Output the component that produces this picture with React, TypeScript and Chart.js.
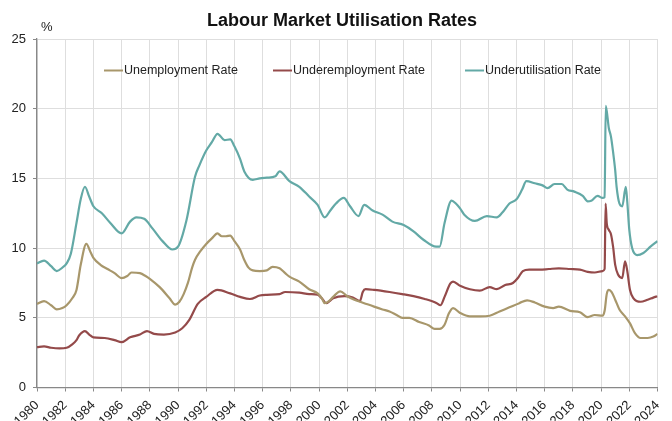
import React, { useEffect, useRef } from 'react';
import { Chart, registerables } from 'chart.js';

Chart.register(...registerables);

const chartTitle = 'Labour Market Utilisation Rates';
const yUnit = '%';
const yearTicks = [1980, 1982, 1984, 1986, 1988, 1990, 1992, 1994, 1996, 1998, 2000, 2002, 2004, 2006, 2008, 2010, 2012, 2014, 2016, 2018, 2020, 2022, 2024];
const valueTicks = [0, 5, 10, 15, 20, 25];

const seriesNames = ['Unemployment Rate', 'Underemployment Rate', 'Underutilisation Rate'];
const seriesColors = ['#a8976b', '#944a4a', '#63a9a6'];

const unemploymentYears = [1980.0, 1980.5, 1981.0, 1981.4, 1981.8, 1982.1, 1982.5, 1982.8, 1983.1, 1983.5, 1983.8, 1984.0, 1984.5, 1985.0, 1985.5, 1986.0, 1986.4, 1986.7, 1987.3, 1987.7, 1988.0, 1988.7, 1989.4, 1989.8, 1990.1, 1990.4, 1990.7, 1991.0, 1991.2, 1991.6, 1992.0, 1992.4, 1992.8, 1993.1, 1993.4, 1993.7, 1994.0, 1994.4, 1994.7, 1995.0, 1995.3, 1995.8, 1996.3, 1996.7, 1997.2, 1997.6, 1997.9, 1998.6, 1999.3, 1999.9, 2000.2, 2000.4, 2000.7, 2001.0, 2001.5, 2002.0, 2002.5, 2003.2, 2003.9, 2004.5, 2005.0, 2005.5, 2005.9, 2006.4, 2007.1, 2007.8, 2008.2, 2008.55, 2008.9, 2009.2, 2009.5, 2010.0, 2010.7, 2011.4, 2012.1, 2012.8, 2013.5, 2014.2, 2014.75, 2015.3, 2016.0, 2016.6, 2017.0, 2017.8, 2018.5, 2019.05, 2019.55, 2020.1, 2020.25, 2020.4, 2020.55, 2020.75, 2021.0, 2021.3, 2021.7, 2022.05, 2022.4, 2022.8, 2023.3, 2023.7, 2024.0];
const unemploymentRate = [6.0, 6.2, 5.9, 5.6, 5.7, 5.9, 6.4, 7.0, 8.8, 10.3, 9.7, 9.3, 8.8, 8.5, 8.2, 7.85, 8.0, 8.25, 8.2, 8.0, 7.8, 7.2, 6.4, 5.95, 6.15, 6.7, 7.5, 8.6, 9.15, 9.8, 10.3, 10.7, 11.05, 10.85, 10.85, 10.9, 10.5, 9.9, 9.15, 8.6, 8.4, 8.35, 8.4, 8.65, 8.55, 8.2, 7.95, 7.6, 7.05, 6.75, 6.4, 6.05, 6.2, 6.5, 6.9, 6.55, 6.3, 6.05, 5.8, 5.6, 5.45, 5.2, 5.0, 5.0, 4.7, 4.45, 4.2, 4.2, 4.5, 5.3, 5.7, 5.35, 5.1, 5.1, 5.15, 5.45, 5.75, 6.05, 6.25, 6.1, 5.8, 5.7, 5.8, 5.5, 5.4, 5.05, 5.2, 5.15, 5.5, 6.7, 7.0, 6.85, 6.3, 5.6, 5.1, 4.6, 3.9, 3.55, 3.55, 3.65, 3.85];

const underemploymentYears = [1980.0, 1980.5, 1981.0, 1981.6, 1982.1, 1982.5, 1982.8, 1983.0, 1983.4, 1983.7, 1984.0, 1984.8, 1985.5, 1986.0, 1986.6, 1987.3, 1987.8, 1988.3, 1989.0, 1989.8, 1990.3, 1990.8, 1991.4, 1992.0, 1992.8, 1993.7, 1994.4, 1995.1, 1995.8, 1996.3, 1997.2, 1997.6, 1998.6, 1999.3, 1999.9, 2000.2, 2000.5, 2001.0, 2001.8, 2002.4, 2002.9, 2003.1, 2003.3, 2003.9, 2005.0, 2005.9, 2006.7, 2007.5, 2008.35, 2008.6, 2008.9, 2009.3, 2009.5, 2010.0, 2010.7, 2011.4, 2012.1, 2012.6, 2013.2, 2013.75, 2014.1, 2014.45, 2014.9, 2015.65, 2016.3, 2017.0, 2017.8, 2018.5, 2019.05, 2019.55, 2020.1, 2020.25, 2020.32, 2020.4, 2020.55, 2020.7, 2020.85, 2021.0, 2021.2, 2021.5, 2021.7, 2021.85, 2022.05, 2022.3, 2022.8, 2023.3, 2023.7, 2024.0];
const underemploymentRate = [2.9, 2.95, 2.85, 2.8, 2.85, 3.1, 3.4, 3.75, 4.05, 3.8, 3.6, 3.55, 3.4, 3.25, 3.6, 3.8, 4.05, 3.85, 3.8, 3.95, 4.25, 4.85, 6.0, 6.5, 7.0, 6.75, 6.5, 6.35, 6.6, 6.65, 6.7, 6.85, 6.8, 6.7, 6.65, 6.4, 6.05, 6.4, 6.55, 6.45, 6.2, 6.85, 7.05, 7.0, 6.85, 6.7, 6.55, 6.35, 6.05, 5.9, 6.5, 7.45, 7.6, 7.3, 7.05, 6.95, 7.2, 7.05, 7.35, 7.5, 7.85, 8.35, 8.45, 8.45, 8.5, 8.55, 8.5, 8.45, 8.3, 8.25, 8.35, 8.5, 13.2, 11.8, 11.3, 11.0, 10.1, 8.8, 8.1, 7.85, 9.05, 8.4, 7.0, 6.4, 6.15, 6.3, 6.45, 6.55];

const underutilisationYears = [1980.0, 1980.5, 1981.0, 1981.4, 1981.8, 1982.1, 1982.4, 1982.8, 1983.1, 1983.4, 1983.7, 1984.0, 1984.6, 1985.2, 1986.0, 1986.6, 1987.05, 1987.6, 1988.2, 1988.9, 1989.6, 1990.0, 1990.6, 1991.2, 1991.5, 1992.0, 1992.4, 1992.8, 1993.3, 1993.7, 1994.0, 1994.4, 1994.7, 1995.3, 1995.8, 1996.3, 1996.9, 1997.2, 1997.9, 1998.6, 1999.3, 1999.9, 2000.4, 2000.8, 2001.2, 2001.75, 2002.2, 2002.8, 2003.2, 2003.8, 2004.5, 2005.2, 2006.0, 2006.7, 2007.4, 2008.3, 2008.55, 2008.9, 2009.4, 2009.7, 2010.0, 2010.3, 2011.05, 2011.9, 2012.6, 2013.0, 2013.5, 2014.0, 2014.4, 2014.7, 2015.3, 2015.85, 2016.2, 2016.7, 2017.2, 2017.6, 2018.1, 2018.7, 2019.05, 2019.3, 2019.75, 2020.1, 2020.25, 2020.33, 2020.55, 2020.7, 2020.85, 2021.0, 2021.1, 2021.3, 2021.5, 2021.75, 2021.85, 2022.0, 2022.2, 2022.55, 2023.0, 2023.5, 2024.0];
const underutilisationRate = [8.9, 9.1, 8.7, 8.35, 8.6, 8.9, 9.6, 11.8, 13.5, 14.4, 13.7, 13.0, 12.5, 11.8, 11.05, 11.9, 12.2, 12.1, 11.4, 10.5, 9.9, 10.1, 12.0, 15.1, 15.9, 17.0, 17.6, 18.2, 17.75, 17.8, 17.3, 16.4, 15.5, 14.9, 15.0, 15.05, 15.15, 15.5, 14.8, 14.4, 13.7, 13.1, 12.2, 12.7, 13.2, 13.6, 13.0, 12.3, 13.1, 12.7, 12.4, 11.9, 11.65, 11.2, 10.6, 10.1, 10.1, 11.8, 13.4, 13.2, 12.85, 12.4, 11.95, 12.3, 12.2, 12.55, 13.2, 13.5, 14.2, 14.8, 14.65, 14.5, 14.3, 14.6, 14.6, 14.2, 14.05, 13.75, 13.35, 13.4, 13.75, 13.6, 13.65, 20.2, 18.6, 18.0, 16.9, 15.6, 14.4, 13.2, 13.0, 14.4, 13.4, 11.3, 10.0, 9.5, 9.65, 10.1, 10.5];

const FONT = '"Liberation Sans", Arial, Helvetica, sans-serif';

function toPoints(xs: number[], ys: number[]) {
  return xs.map((x, i) => ({ x, y: ys[i] }));
}

const overlayPlugin = {
  id: 'overlay',
  afterDraw(chart: any) {
    const ctx = chart.ctx as CanvasRenderingContext2D;
    ctx.save();
    ctx.fillStyle = '#111111';
    ctx.font = `bold 18px ${FONT}`;
    ctx.textAlign = 'center';
    ctx.textBaseline = 'alphabetic';
    ctx.fillText(chartTitle, 342, 26);

    ctx.font = `13px ${FONT}`;
    ctx.textAlign = 'left';
    ctx.fillStyle = '#222222';
    ctx.fillText(yUnit, 41, 31);

    const legendX = [104, 273, 465];
    const legendY = 70.5;
    ctx.font = `12.5px ${FONT}`;
    ctx.textBaseline = 'middle';
    seriesNames.forEach((name, i) => {
      ctx.strokeStyle = seriesColors[i];
      ctx.lineWidth = 2;
      ctx.beginPath();
      ctx.moveTo(legendX[i], legendY);
      ctx.lineTo(legendX[i] + 19, legendY);
      ctx.stroke();
      ctx.fillStyle = '#222222';
      ctx.fillText(name, legendX[i] + 20, legendY + 0.5);
    });
    ctx.restore();
  },
};

export default function App() {
  const canvasRef = useRef<HTMLCanvasElement | null>(null);

  useEffect(() => {
    if (!canvasRef.current) return;
    Chart.defaults.font.family = FONT;
    const seriesData = [
      toPoints(unemploymentYears, unemploymentRate),
      toPoints(underemploymentYears, underemploymentRate),
      toPoints(underutilisationYears, underutilisationRate),
    ];
    const chart = new Chart(canvasRef.current, {
      type: 'line',
      data: {
        datasets: seriesNames.map((name, i) => ({
          label: name,
          data: seriesData[i],
          borderColor: seriesColors[i],
          backgroundColor: seriesColors[i],
          borderWidth: 2.2,
          pointRadius: 0,
          cubicInterpolationMode: 'monotone' as const,
          fill: false,
        })),
      },
      options: {
        responsive: false,
        animation: false,
        events: [],
        layout: { padding: { top: 39, right: 14.5, left: 0, bottom: 0 } },
        plugins: {
          legend: { display: false },
          title: { display: false },
          tooltip: { enabled: false },
        },
        scales: {
          x: {
            type: 'linear',
            min: 1980,
            max: 2024,
            afterBuildTicks: (scale: any) => {
              scale.ticks = yearTicks.map((v) => ({ value: v }));
            },
            afterFit: (scale: any) => {
              scale.height = 33.5;
              scale.paddingLeft = 0;
              scale.paddingRight = 0;
            },
            ticks: {
              autoSkip: false,
              minRotation: 45,
              maxRotation: 45,
              padding: 6,
              color: '#222222',
              font: { size: 13, family: FONT },
              callback: (v: any) => String(v),
            },
            grid: {
              color: '#dedede',
              tickColor: '#888888',
              tickLength: 4,
              lineWidth: 1,
            },
            border: { color: '#888888', width: 1.3 },
          },
          y: {
            min: 0,
            max: 25,
            afterBuildTicks: (scale: any) => {
              scale.ticks = valueTicks.map((v) => ({ value: v }));
            },
            afterFit: (scale: any) => {
              scale.width = 37;
              scale.paddingTop = 0;
              scale.paddingBottom = 0;
            },
            ticks: {
              padding: 7,
              color: '#222222',
              font: { size: 13, family: FONT },
              callback: (v: any) => String(v),
            },
            grid: {
              color: '#dedede',
              tickColor: '#888888',
              tickLength: 4,
              lineWidth: 1,
            },
            border: { color: '#888888', width: 1.3 },
          },
        },
      },
      plugins: [overlayPlugin],
    });
    return () => chart.destroy();
  }, []);

  return (
    <div style={{ position: 'absolute', left: 0, top: 0, width: 672, height: 421, background: '#ffffff' }}>
      <canvas ref={canvasRef} width={672} height={421} />
    </div>
  );
}
